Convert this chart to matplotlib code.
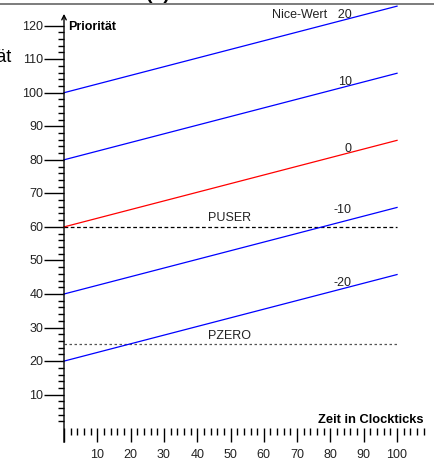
import matplotlib
matplotlib.use("Agg")
import matplotlib.pyplot as plt
from matplotlib.lines import Line2D

plt.rcParams['font.family'] = ['Liberation Sans', 'DejaVu Sans']

# Nice-Werte und Prioritaetsverlauf (Start bei t=0, Ende bei t=100)
nice_values = [20, 10, 0, -10, -20]
nice_labels = ['Nice-Wert   20', '10', '0', '-10', '-20']
prio_start = [100, 80, 60, 40, 20]
prio_end = [125.8, 105.8, 85.8, 65.8, 45.8]
t_range = [0, 100]

# Schwellen
thresh_names = ['PUSER', 'PZERO']
thresh_values = [60, 25]

x_ticks = list(range(10, 101, 10))
y_ticks = list(range(10, 121, 10))

fig = plt.figure(figsize=(4.35, 4.64), dpi=100)
ax = fig.add_axes([0, 0, 1, 1])
ax.set_xlim(-19.22, 111.4)
ax.set_ylim(-10.37, 127.93)
ax.axis('off')

# Achsen mit Pfeilen
ax.annotate('', xy=(111.6, 0), xytext=(-4.2, 0),
            arrowprops=dict(arrowstyle='->', lw=1.0, color='black',
                            shrinkA=0, shrinkB=0, mutation_scale=8))
ax.annotate('', xy=(0, 123.5), xytext=(0, -4.2),
            arrowprops=dict(arrowstyle='->', lw=1.0, color='black',
                            shrinkA=0, shrinkB=0, mutation_scale=8))

# y-Ticks
for v in range(2, 121, 2):
    ln = 6.0 if v % 10 == 0 else 1.8
    ax.plot([-ln, 0], [v, v], color='black', lw=1.0, solid_capstyle='butt')
for v in y_ticks:
    ax.text(-6.2, v, str(v), ha='right', va='center', fontsize=9, color='#222222')

# x-Ticks
for t in range(0, 109, 2):
    ln = 4.2 if t % 10 == 0 else 2.1
    ax.plot([t, t], [0, -ln], color='black', lw=1.0, solid_capstyle='butt')
for t in x_ticks:
    ax.text(t, -7.8, str(t), ha='center', va='center', fontsize=9, color='#222222')

# Schwellenlinien
ax.plot(t_range, [thresh_values[0]] * 2, color='black', lw=0.9, linestyle=(0, (3, 2)))
ax.plot(t_range, [thresh_values[1]] * 2, color='#555555', lw=0.9, linestyle=(0, (2, 2)))
ax.text(43.2, 63.0, thresh_names[0], ha='left', va='center', fontsize=9, color='#222222')
ax.text(43.2, 27.8, thresh_names[1], ha='left', va='center', fontsize=9, color='#222222')

# Prioritaetsgeraden
label_y = [123.5, 103.5, 83.5, 65.3, 43.6]
for nv, ps, pe, lab, ly in zip(nice_values, prio_start, prio_end, nice_labels, label_y):
    col = 'red' if nv == 0 else 'blue'
    ax.plot(t_range, [ps, pe], color=col, lw=0.9)
    ax.text(86.4, ly, lab, ha='right', va='center', fontsize=9, color='#222222')

# Achsenbeschriftungen
ax.text(1.2, 120, 'Priorität', ha='left', va='center', fontsize=9, fontweight='bold')
ax.text(108.0, 2.8, 'Zeit in Clockticks', ha='right', va='center', fontsize=9.3,
        fontweight='bold')

# angeschnittene Reste vom Rand
fig.add_artist(Line2D([0, 1], [1 - 5 / 464, 1 - 5 / 464], transform=fig.transFigure,
                      color='#666666', lw=1.2))
fig.text(158 / 435, 1 + 1 / 464, '(c)', ha='center', va='baseline', fontsize=14,
         fontweight='bold')
fig.text(12 / 435, 1 - 57 / 464, 'Priorität', ha='right', va='center', fontsize=13)

fig.savefig('out.png', dpi=100)
